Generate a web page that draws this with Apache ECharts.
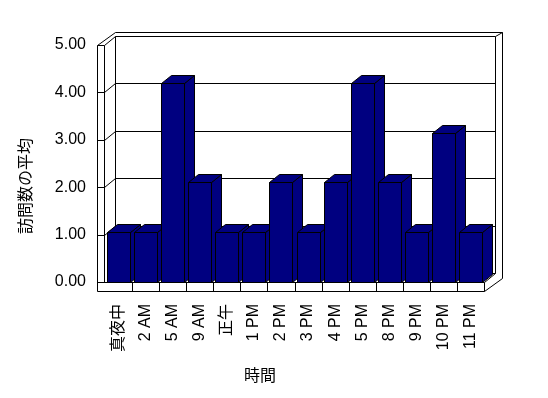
<!DOCTYPE html>
<html><head><meta charset="utf-8">
<script src="https://cdn.jsdelivr.net/npm/echarts@6/dist/echarts.min.js"></script>
<style>html,body{margin:0;padding:0;background:#fff}#c{width:548px;height:398px}</style>
</head><body><div id="c"></div>
<script>
const categories = ['真夜中','2 AM','5 AM','9 AM','正午','1 PM','2 PM','3 PM','4 PM','5 PM','8 PM','9 PM','10 PM','11 PM'];
const values = [1,1,4,2,1,1,2,1,2,4,2,1,3,1];
const yMin = 0, yMax = 5, yInterval = 1;
const xTitle = '時間';
const yTitle = '訪問数の平均';

const FONT = '"Liberation Sans","Noto Sans CJK JP",sans-serif';
const W = 548, H = 398;
const PLOT_L = 104, PLOT_R = 484, FRONT_TOP = 45, FLOOR_Y = 282, BAR_TOP = 33;
const WALL_T = 7, FLOOR_T = 9;
const D1 = [11, -9], D2 = [18, -13];
const BDX = 10, BDY = 8;

function renderBar(params, api) {
  const i = api.value(0), v = api.value(1);
  const top = api.coord([i, v]), base = api.coord([i, 0]);
  const bw = api.size([1, 0])[0];
  const x0 = Math.round(base[0] - bw / 2 + 2) + 0.5;
  const x1 = x0 + Math.round(bw * 0.85);
  const yt = Math.round(top[1]) + 0.5, yb = Math.round(base[1]) + 0.5;
  const st = { fill: '#000080', stroke: '#000', lineWidth: 1 };
  return { type: 'group', children: [
    { type: 'polygon', shape: { points: [[x1, yt], [x1 + BDX, yt - BDY], [x1 + BDX, yb - BDY], [x1, yb]] }, style: st },
    { type: 'polygon', shape: { points: [[x0, yt], [x0 + BDX, yt - BDY], [x1 + BDX, yt - BDY], [x1, yt]] }, style: st },
    { type: 'rect', shape: { x: x0, y: yt, width: x1 - x0, height: yb - yt }, style: st }
  ]};
}

const chart = echarts.init(document.getElementById('c'));
chart.setOption({
  backgroundColor: '#fff',
  animation: false,
  grid: [
    { left: PLOT_L, right: W - PLOT_R, top: FRONT_TOP, bottom: H - FLOOR_Y },
    { left: PLOT_L + 1, right: W - PLOT_R, top: BAR_TOP, bottom: H - FLOOR_Y }
  ],
  xAxis: [
    { gridIndex: 0, type: 'category', data: categories, show: false },
    { gridIndex: 1, type: 'category', data: categories,
      axisLine: { show: false }, axisTick: { show: false },
      axisLabel: { rotate: 90, margin: 22, fontSize: 16, color: '#000', fontFamily: FONT, interval: 0 } }
  ],
  yAxis: [
    { gridIndex: 0, type: 'value', min: yMin, max: yMax, interval: yInterval,
      axisLine: { show: false }, axisTick: { show: false }, splitLine: { show: false },
      axisLabel: { formatter: v => v.toFixed(2), margin: 18, fontSize: 16, color: '#000', fontFamily: FONT } },
    { gridIndex: 1, type: 'value', min: yMin, max: yMax, interval: yInterval, show: false, splitLine: { show: false } }
  ],
  series: [{ type: 'custom', xAxisIndex: 1, yAxisIndex: 1, z: 5,
    data: values.map((v, i) => [i, v]), renderItem: renderBar }]
});

// Frame (walls, floor, gridlines) derived from the axis scale
const yf = v => chart.convertToPixel({ yAxisIndex: 0 }, v);
const els = [];
const P = p => [Math.round(p[0]) + 0.5, Math.round(p[1]) + 0.5];
const L = pts => els.push({ type: 'polyline', z: 0, silent: true,
  shape: { points: pts.map(P) }, style: { stroke: '#000', lineWidth: 1, fill: null } });

const xo = PLOT_L - WALL_T, yTop = yf(yMax), yBase = yf(yMin), yBot = yBase + FLOOR_T;
// outer silhouette
L([[xo, yBot], [xo, yTop], [xo + D2[0], yTop + D2[1]], [PLOT_R + D2[0], yTop + D2[1]],
   [PLOT_R + D2[0], yBot + D2[1]], [PLOT_R, yBot], [xo, yBot]]);
// left wall front face
L([[xo, yTop], [PLOT_L, yTop], [PLOT_L, yBase]]);
// inner back wall
L([[PLOT_L, yTop], [PLOT_L + D1[0], yTop + D1[1]], [PLOT_R + D1[0], yTop + D1[1]], [PLOT_R + D2[0], yTop + D2[1]]]);
L([[PLOT_L + D1[0], yTop + D1[1]], [PLOT_L + D1[0], yBase + D1[1]]]);
L([[PLOT_R + D1[0], yTop + D1[1]], [PLOT_R + D1[0], yBase + D1[1]]]);
// floor
L([[xo, yBase], [PLOT_R, yBase], [PLOT_R + D1[0], yBase + D1[1]], [PLOT_L + D1[0], yBase + D1[1]]]);
L([[PLOT_R, yBase], [PLOT_R, yBot]]);
// gridlines
for (let v = yMin + yInterval; v < yMax; v += yInterval) {
  const y = yf(v);
  L([[xo, y], [PLOT_L, y], [PLOT_L + D1[0], y + D1[1]], [PLOT_R + D1[0], y + D1[1]]]);
}
// category dividers on floor front
const bw = (PLOT_R - PLOT_L - 1) / categories.length;
for (let k = 1; k < categories.length; k++) {
  const x = PLOT_L + 1 + k * bw;
  L([[x, yBase], [x, yBot]]);
}
els.push({ type: 'text', silent: true, x: 260, y: 377,
  style: { text: xTitle, fontSize: 16, fontFamily: FONT, fill: '#000', align: 'center', verticalAlign: 'middle' } });
els.push({ type: 'text', silent: true, x: 27, y: 186, rotation: Math.PI / 2,
  style: { text: yTitle, fontSize: 16, fontFamily: FONT, fill: '#000', align: 'center', verticalAlign: 'middle' } });
chart.setOption({ graphic: { elements: els } });
</script>
</body></html>
